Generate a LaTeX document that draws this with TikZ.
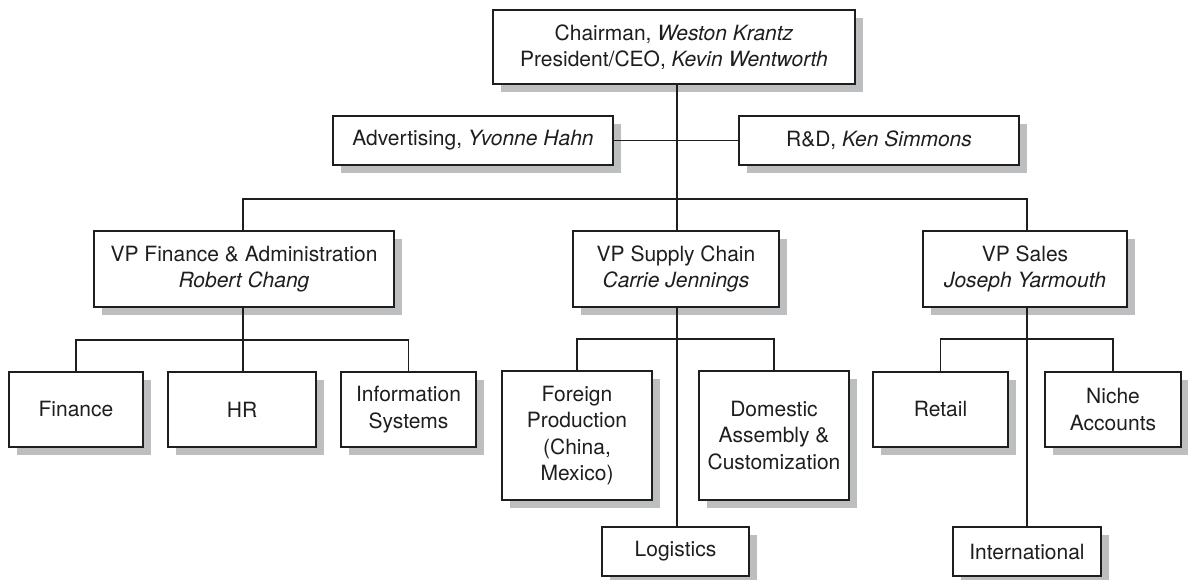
\documentclass[tikz,border=0pt]{standalone}
\usepackage{fontspec}
\setmainfont{TeX Gyre Heros}
\usetikzlibrary{shadows}
\definecolor{ink}{HTML}{1E1E1E}
\definecolor{shade}{HTML}{BDBEC0}
\begin{document}
\begin{tikzpicture}[x=1pt,y=-1pt,
  unit/.style={draw=ink, line width=1.3pt, fill=white, text=ink, inner sep=0pt,
    align=center, font=\fontsize{21}{26.5}\selectfont,
    general shadow={fill=shade, shadow xshift=8pt, shadow yshift=-8pt}},
  link/.style={draw=ink, line width=1.3pt}]
\useasboundingbox[fill=white] (0,0) rectangle (1188,580);

% top management
\node[unit, minimum width=362pt, minimum height=74pt] (top) at (674,47)
  {Chairman, \textit{Weston Krantz}\\President/CEO, \textit{Kevin Wentworth}};
\node[unit, minimum width=280pt, minimum height=49pt] (adv) at (473,140.5)
  {Advertising, \textit{Yvonne Hahn}};
\node[unit, minimum width=280pt, minimum height=49pt] (rd) at (879,140.5)
  {R\&D, \textit{Ken Simmons}};

% vice presidents
\node[unit, minimum width=300pt, minimum height=76pt] (vpf) at (244,269)
  {VP Finance \& Administration\\\textit{Robert Chang}};
\node[unit, minimum width=206pt, minimum height=76pt] (vpc) at (676,269)
  {VP Supply Chain\\\textit{Carrie Jennings}};
\node[unit, minimum width=204pt, minimum height=76pt] (vps) at (1025,269)
  {VP Sales\\\textit{Joseph Yarmouth}};

% finance & administration departments
\node[unit, minimum width=134pt, minimum height=75pt] (fin) at (76,409.5) {Finance};
\node[unit, minimum width=148pt, minimum height=75pt] (hr) at (242,409.5) {HR};
\node[unit, minimum width=135pt, minimum height=75pt] (info) at (408.5,409.5) {Information\\Systems};

% supply chain departments
\node[unit, minimum width=150pt, minimum height=129pt] (frn) at (577,435.5)
  {Foreign\\Production\\(China,\\Mexico)};
\node[unit, minimum width=150pt, minimum height=129pt] (dom) at (774,435.5)
  {Domestic\\Assembly \&\\Customization};
\node[unit, minimum width=147pt, minimum height=49pt] (log) at (675.5,551.5) {Logistics};

% sales departments
\node[unit, minimum width=135pt, minimum height=75pt] (ret) at (940.5,409.5) {Retail};
\node[unit, minimum width=136pt, minimum height=75pt] (nic) at (1113,409.5) {Niche\\Accounts};
\node[unit, minimum width=148pt, minimum height=49pt] (intl) at (1027,551.5) {International};

% connector lanes
\coordinate (trunk) at (677,0);
\coordinate (vpbar) at (0,199);
\coordinate (fbar) at (0,340);
\coordinate (cbar) at (0,339);
\coordinate (sbar) at (0,339);
\coordinate (ftrunk) at (243,0);
\coordinate (strunk) at (1027,0);

% executive spine
\draw[link] (top.south -| trunk) -- (vpc.north -| trunk);
\draw[link] (adv.east) -- (rd.west);
\draw[link] (vpf.north -| ftrunk) |- (vpbar -| trunk) -| (vps.north -| strunk);

% finance branch
\draw[link] (vpf.south -| ftrunk) -- (hr.north -| ftrunk);
\draw[link] (fin.north) |- (fbar -| ftrunk) -| (info.north);

% supply chain branch
\draw[link] (vpc.south -| trunk) -- (log.north -| trunk);
\draw[link] (frn.north) |- (cbar -| trunk) -| (dom.north);

% sales branch
\draw[link] (vps.south -| strunk) -- (intl.north -| strunk);
\draw[link] (ret.north) |- (sbar -| strunk) -| (nic.north);
\end{tikzpicture}
\end{document}
